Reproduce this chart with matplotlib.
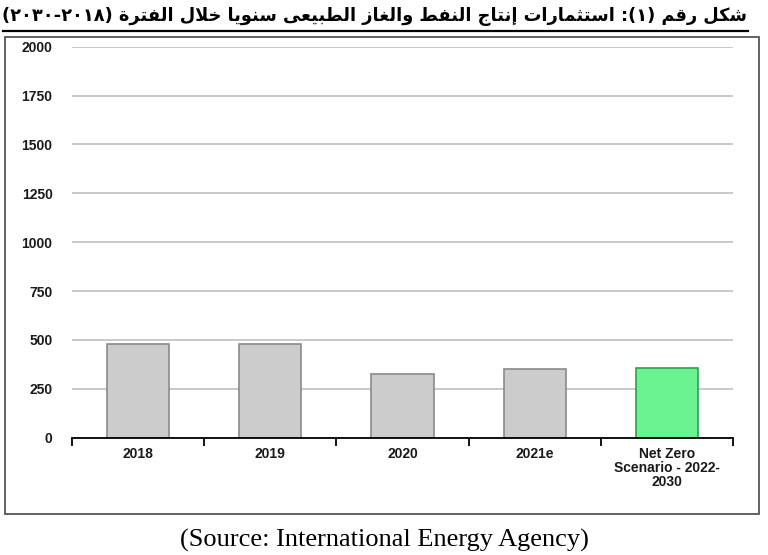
import re
import numpy as np
import matplotlib
matplotlib.use("Agg")
import matplotlib.pyplot as plt
from matplotlib.patches import Rectangle
from matplotlib.lines import Line2D

# data
categories = ["2018", "2019", "2020", "2021e", "Net Zero\nScenario - 2022-\n2030"]
investment = [480, 477, 326, 350, 358]
y_ticks = [0, 250, 500, 750, 1000, 1250, 1500, 1750, 2000]
bar_colors = ["#cccccc", "#cccccc", "#cccccc", "#cccccc", "#6bf391"]
edge_colors = ["#8a8a8a", "#8a8a8a", "#8a8a8a", "#8a8a8a", "#2f9e52"]

title_ar = "شكل رقم (١): استثمارات إنتاج النفط والغاز الطبيعى سنويا خلال الفترة (٢٠١٨-٢٠٣٠)"
source_txt = "(Source: International Energy Agency)"

# minimal arabic shaping (matplotlib has no bidi / joining support)
DUAL = {"ب": 0xFE8F, "ت": 0xFE95, "ث": 0xFE99, "ج": 0xFE9D, "خ": 0xFEA5,
        "س": 0xFEB1, "ش": 0xFEB5, "ط": 0xFEC1, "ع": 0xFEC9, "غ": 0xFECD,
        "ف": 0xFED1, "ق": 0xFED5, "ك": 0xFED9, "ل": 0xFEDD, "م": 0xFEE1,
        "ن": 0xFEE5, "ي": 0xFEF1}
RIGHT = {"ا": 0xFE8D, "إ": 0xFE87, "ة": 0xFE93, "ر": 0xFEAD, "ز": 0xFEAF,
         "و": 0xFEED, "ى": 0xFEEF}
LAM_ALEF = {"ا": 0xFEFB, "إ": 0xFEF9}


def shape_arabic(text):
    out = []
    i = 0
    n = len(text)
    while i < n:
        c = text[i]
        prev = text[i - 1] if i > 0 else ""
        nxt = text[i + 1] if i + 1 < n else ""
        joins_prev = prev in DUAL
        if c == "ل" and nxt in LAM_ALEF:
            out.append(chr(LAM_ALEF[nxt] + (1 if joins_prev else 0)))
            i += 2
            continue
        if c in DUAL:
            joins_next = nxt in DUAL or nxt in RIGHT
            out.append(chr(DUAL[c] + (1 if joins_prev else 0) + (2 if joins_next else 0)))
        elif c in RIGHT:
            out.append(chr(RIGHT[c] + (1 if joins_prev else 0)))
        else:
            out.append(c)
        i += 1
    vis = "".join(out)[::-1]
    vis = vis.translate(str.maketrans("()", ")("))
    vis = re.sub(r"[\u0660-\u0669]+", lambda m: m.group(0)[::-1], vis)
    return vis


plt.rcParams["font.family"] = ["Liberation Sans", "DejaVu Sans"]

fig = plt.figure(figsize=(7.68, 5.55), dpi=100)
ax = fig.add_axes([72 / 768, 117.4 / 555, 661 / 768, 390.9 / 555])

x = np.arange(len(categories))
ax.bar(x, investment, width=0.47, color=bar_colors, edgecolor=edge_colors,
       linewidth=1.2, zorder=3)

ax.set_xlim(-0.5, len(categories) - 0.5)
ax.set_ylim(0, 2000)
ax.set_yticks(y_ticks)
ax.yaxis.grid(True, color="#c4c4c4", linewidth=1.3)
ax.set_axisbelow(True)

for side in ["left", "right", "top"]:
    ax.spines[side].set_visible(False)
ax.spines["bottom"].set_color("black")
ax.spines["bottom"].set_linewidth(1.3)
ax.spines["bottom"].set_zorder(4)

ax.set_xticks(x)
ax.set_xticklabels(categories, fontsize=10, fontweight="bold", color="#1a1a1a",
                   linespacing=1.02)
ax.set_xticks(np.arange(-0.5, len(categories), 1), minor=True)
ax.tick_params(axis="x", which="major", length=0, pad=6.5)
ax.tick_params(axis="x", which="minor", length=6, width=1.3, color="black")
ax.tick_params(axis="y", length=0, pad=14, labelsize=10, labelcolor="#1a1a1a")
for lbl in ax.get_yticklabels():
    lbl.set_fontweight("bold")

# frame around the chart
fig.add_artist(Rectangle((5 / 768, 41 / 555), 754 / 768, 477 / 555,
                         transform=fig.transFigure, fill=False,
                         edgecolor="#555555", linewidth=1.3))

# underlined arabic title, scaled to span the frame
title = fig.text(375 / 768, 1 - 17 / 555, shape_arabic(title_ar), ha="center",
                 va="center", fontsize=15, fontweight="bold",
                 family=["DejaVu Sans"])
fig.canvas.draw()
bb = title.get_window_extent()
title.set_fontsize(15 * 740 / bb.width)
fig.canvas.draw()
bb = title.get_window_extent()
fig.add_artist(Line2D([bb.x0 / 768, bb.x1 / 768], [1 - 31 / 555, 1 - 31 / 555],
                      transform=fig.transFigure, color="black", linewidth=1.6))

fig.text(384 / 768, 1 - 540 / 555, source_txt, ha="center", va="center",
         fontsize=19, family=["Liberation Serif"])

fig.savefig("out.png", dpi=100)
